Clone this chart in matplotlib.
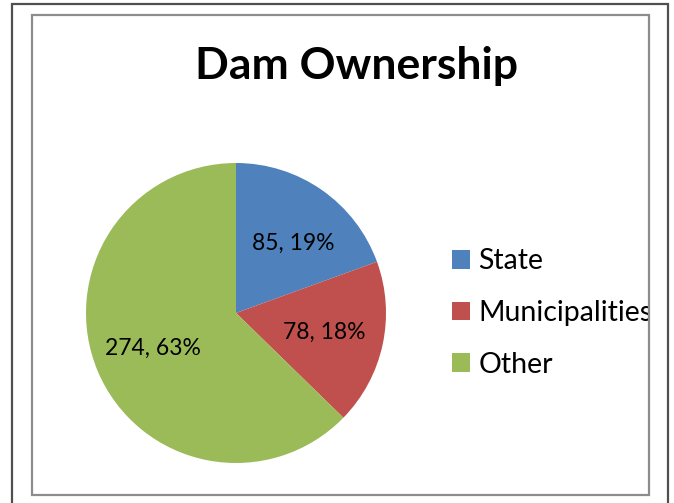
import math
import matplotlib.pyplot as plt
from matplotlib.patches import Rectangle

# данные
labels = ["State", "Municipalities", "Other"]
values = [85, 78, 274]
colors = ["#4F81BD", "#C0504D", "#9BBB59"]
title = "Dam Ownership"

plt.rcParams['font.family'] = ['Lato', 'DejaVu Sans']

W, H = 674, 503
fig = plt.figure(figsize=(W / 100, H / 100), dpi=100)

# рамки (внешняя тёмная, внутренняя серая)
fig.patches.append(Rectangle((12 / W, -0.1), 656 / W, (H - 4) / H + 0.1,
                             transform=fig.transFigure, fill=False,
                             edgecolor="#505050", lw=1.6))
fig.patches.append(Rectangle((32 / W, 8 / H), 617 / W, 480 / H,
                             transform=fig.transFigure, fill=False,
                             edgecolor="#8c8c8c", lw=1.6))

# оси в пиксельных координатах (y вверх)
ax = fig.add_axes([32 / W, 8 / H, 617 / W, 480 / H])

total = sum(values)
wedges = ax.pie(values, colors=colors, startangle=90, counterclock=False,
                center=(236, 190), radius=150, frame=True)[0]
ax.axis("off")
ax.set_xlim(32, 649)
ax.set_ylim(8, 488)
ax.set_aspect("equal")

# подписи «значение, процент» (небольшой сдвиг, как в Excel "best fit")
nudge = [(6, -4), (0, 0), (0, 0)]
start = 90.0
for v, (dx, dy) in zip(values, nudge):
    span = 360.0 * v / total
    mid = math.radians(start - span / 2)
    ax.annotate(f"{v}, {round(100 * v / total)}%",
                (236 + 0.6 * 150 * math.cos(mid), 190 + 0.6 * 150 * math.sin(mid)),
                xytext=(dx * 0.72, dy * 0.72), textcoords="offset points",
                ha="center", va="center", fontsize=16.5, color="black")
    start -= span

ax.text(356, 437, title, ha="center", va="center", fontsize=32, fontweight="bold")

leg = ax.legend(wedges, labels, loc="center left", bbox_to_anchor=(452, 190),
                bbox_transform=ax.transData, frameon=False, fontsize=20.5,
                handlelength=0.62, handleheight=0.62, handletextpad=0.3,
                labelspacing=0.9, borderaxespad=0, borderpad=0)
for t in leg.get_texts():
    t.set_clip_on(True)
    t.set_clip_box(ax.bbox)

fig.savefig("out.png", dpi=100)
